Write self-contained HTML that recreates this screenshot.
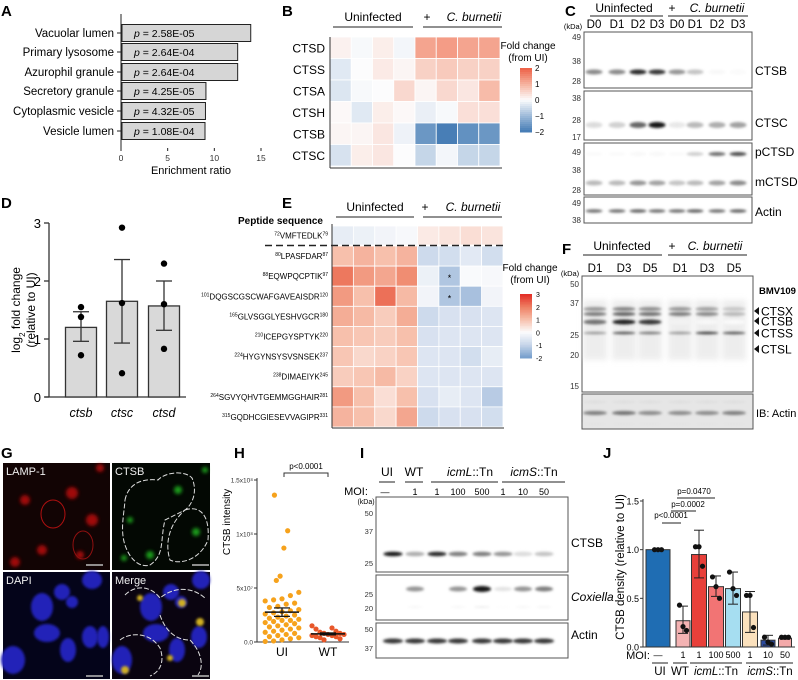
<!DOCTYPE html>
<html><head><meta charset="utf-8"><style>
html,body{margin:0;padding:0;background:#fff;}
svg{display:block;font-family:"Liberation Sans",Arial,sans-serif;}
</style></head><body>
<svg id="fig" width="798" height="680" viewBox="0 0 798 680" xmlns="http://www.w3.org/2000/svg">
<defs>
<filter id="blur1" x="-50%" y="-200%" width="200%" height="500%"><feGaussianBlur stdDeviation="1.4"/></filter>
<filter id="blur2" x="-50%" y="-50%" width="200%" height="200%"><feGaussianBlur stdDeviation="1.8"/></filter>
<filter id="blur3" x="-50%" y="-50%" width="200%" height="200%"><feGaussianBlur stdDeviation="3"/></filter>
</defs>
<g font-weight="bold" font-size="15" fill="#000">
<text x="1" y="16">A</text>
<text x="282" y="16">B</text>
<text x="565" y="16">C</text>
<text x="1" y="208">D</text>
<text x="282" y="208">E</text>
<text x="562" y="254">F</text>
<text x="1" y="458">G</text>
<text x="234" y="458">H</text>
<text x="360" y="458">I</text>
<text x="603" y="458">J</text>
</g>
<g id="pA"></g>
<g id="pB"></g>
<g id="pC"></g>
<g id="pD">
<text transform="translate(20,310) rotate(-90)" font-size="12" text-anchor="middle">log<tspan font-size="8" baseline-shift="sub">2</tspan> fold change</text>
<text transform="translate(35,310) rotate(-90)" font-size="12" text-anchor="middle">(relative to UI)</text>
</g>
<g id="pE"></g>
<g id="pF"></g>
<g id="pG"></g>
<g id="pH"></g>
<g id="pI"></g>
<g id="pJ"></g>
</svg>
<script>
// ---------- DATA ----------
const aCategories = ["Vacuolar lumen","Primary lysosome","Azurophil granule","Secretory granule","Cytoplasmic vesicle","Vesicle lumen"];
const aValues = [13.9, 12.5, 12.5, 9.1, 9.05, 9.0];
const aPvalues = ["2.58E-05","2.64E-04","2.64E-04","4.25E-05","4.32E-05","1.08E-04"];
const aTicks = [0, 5, 10, 15];

const bRows = ["CTSD","CTSS","CTSA","CTSH","CTSB","CTSC"];
const bValues = [
 [0.15,-0.05,0.2,-0.1,1.2,1.3,1.2,1.2],
 [-0.3,0,0.25,0.1,0.6,0.7,0.6,0.6],
 [-0.35,-0.05,0,0.5,0.1,0.5,0.3,0.9],
 [0.05,-0.3,0.2,0.05,-0.2,-0.05,0.4,0.4],
 [0.1,0.1,0.3,-0.15,-1.6,-2.0,-1.7,-1.6],
 [-0.4,0.2,0.3,0,-0.6,-0.1,-0.6,-0.6]];
const bScaleTicks = [2,1,0,-1,-2];

const cLanes = ["D0","D1","D2","D3","D0","D1","D2","D3"];
const cCTSB = [0.5,0.5,0.9,0.85,0.45,0.25,0.03,0.02];
const cCTSC = [0.15,0.2,0.65,1.0,0.1,0.3,0.35,0.4];
const cPCTSD = [0.02,0.02,0.03,0.03,0.02,0.2,0.6,0.75];
const cMCTSD = [0.3,0.3,0.45,0.4,0.25,0.3,0.4,0.5];
const cActin = [0.6,0.6,0.65,0.6,0.6,0.65,0.6,0.65];

const dCategories = ["ctsb","ctsc","ctsd"];
const dMeans = [1.2, 1.65, 1.57];
const dErrLow = [0.96, 0.93, 1.15];
const dErrHigh = [1.47, 2.37, 2.0];
const dPoints = [[1.55,1.38,0.72],[2.92,1.62,0.41],[2.3,1.6,0.83]];
const dTicks = [0,1,2,3];

const ePeptides = [["72","VMFTEDLK","79"],["80","LPASFDAR","87"],["88","EQWPQCPTIK","97"],["101","DQGSCGSCWAFGAVEAISDR","120"],["165","GLVSGGLYESHVGCR","180"],["210","ICEPGYSPTYK","220"],["224","HYGYNSYSVSNSEK","237"],["238","DIMAEIYK","245"],["264","SGVYQHVTGEMMGGHAIR","281"],["315","GQDHCGIESEVVAGIPR","331"]];
const eValues = [
 [-0.4,-0.3,-0.2,-0.1,0.3,0.4,0.5,0.4],
 [1.0,1.2,1.0,1.2,-0.9,-0.8,-0.5,-0.8],
 [2.1,1.6,1.4,1.8,-0.3,-1.3,-0.05,-0.1],
 [1.6,1.0,2.2,1.1,-0.2,-1.3,-1.4,-0.2],
 [1.3,1.1,0.8,1.3,-0.9,-0.7,-0.7,-0.6],
 [1.0,0.9,0.8,1.0,-0.7,-0.6,-0.6,-0.6],
 [0.9,0.6,0.7,0.9,-0.6,-0.6,-0.8,-0.4],
 [0.8,0.9,1.1,0.7,-0.6,-0.6,-0.6,-0.6],
 [1.6,1.0,0.5,1.0,-0.7,-0.4,-0.6,-1.2],
 [1.2,1.0,0.6,1.4,-0.9,-0.7,-0.7,-0.8]];
const eScaleTicks = [3,2,1,0,-1,-2];

const fLanes = ["D1","D3","D5","D1","D3","D5"];
const fCTSX = [0.55,0.65,0.6,0.55,0.5,0.3];
const fCTSB = [0.6,0.95,0.85,0.05,0.03,0.02];
const fCTSS = [0.45,0.75,0.6,0.45,0.85,0.75];
const fActin = [0.55,0.6,0.5,0.5,0.5,0.55];

const hUI = [13.6,10.3,8.7,6.1,5.7,4.6,4.3,4.0,3.9,3.8,3.6,3.5,3.3,3.2,3.0,2.9,2.8,2.7,2.6,2.5,2.4,2.3,2.2,2.1,2.0,2.0,1.9,1.8,1.7,1.6,1.5,1.4,1.3,1.2,1.1,1.0,0.9,0.8,0.7,0.6,0.5,0.4,0.3,0.2,0.1,0.05];
const hWT = [1.5,1.3,1.2,1.0,0.9,0.8,0.8,0.7,0.7,0.6,0.6,0.5,0.5,0.4,0.3,0.2];
const hTickVals = [0, 5, 10, 15];
const hTickLabels = ["0.0","5x10\u2077","1x10\u2078","1.5x10\u2078"];

const iMOI = ["\u2014","1","1","100","500","1","10","50"];
const iCTSB = [1.0,0.35,0.9,0.55,0.55,0.45,0.15,0.25];
const iCoxiella = [0,0.45,0,0.45,1.0,0.12,0.45,0.55];
const iActin = [0.85,0.85,0.85,0.85,0.85,0.85,0.85,0.85];

const jMOI = ["\u2014","1","1","100","500","1","10","50"];
const jMeans = [1.0,0.27,0.95,0.62,0.6,0.36,0.07,0.09];
const jErrLow = [1.0,0.14,0.71,0.52,0.44,0.15,0.02,0.08];
const jErrHigh = [1.0,0.42,1.2,0.73,0.77,0.57,0.12,0.1];
const jPoints = [[1,1,1],[0.43,0.21,0.17],[1.03,1.03,0.83],[0.72,0.62,0.5],[0.77,0.6,0.53],[0.53,0.53,0.2],[0.1,0.05,0.03],[0.1,0.1,0.1]];
const jColors = ["#1f6db3","#f4b3b3","#e8403a","#f27474","#a6def1","#fbe1bd","#2b4a9c","#f3a9a9"];
const jTicks = [0,0.5,1.0,1.5];

// ---------- HELPERS ----------
const NS = "http://www.w3.org/2000/svg";
function mk(tag, attrs, parent){ const e=document.createElementNS(NS,tag); for(const k in attrs) e.setAttribute(k,attrs[k]); parent.appendChild(e); return e; }
function txt(s, attrs, parent){ const e=mk("text",attrs,parent); e.textContent=s; return e; }
function lerp(a,b,t){return Math.round(a+(b-a)*t);}
function mix(c1,c2,t){return "rgb("+lerp(c1[0],c2[0],t)+","+lerp(c1[1],c2[1],t)+","+lerp(c1[2],c2[2],t)+")";}
function ramp(stops,v){
  if(v<=stops[0][0]) return mix(stops[0][1],stops[0][1],0);
  for(let i=1;i<stops.length;i++){ if(v<=stops[i][0]){const t=(v-stops[i-1][0])/(stops[i][0]-stops[i-1][0]); return mix(stops[i-1][1],stops[i][1],t);} }
  const l=stops[stops.length-1][1]; return mix(l,l,0);
}
const bStops=[[-2,[72,126,182]],[-1,[160,188,218]],[0,[252,252,253]],[1,[246,180,160]],[2,[238,100,74]]];
const eStops=[[-2,[120,160,205]],[-1,[200,214,234]],[0,[252,252,253]],[1,[247,192,172]],[2,[238,128,100]],[3,[228,48,40]]];
function band(parent, cx, cy, w, h, inten){
  if(inten<=0.01) return null;
  const g=Math.round(255-inten*235);
  return mk("ellipse",{cx:cx,cy:cy,rx:w/2,ry:h/2,fill:"rgb("+g+","+g+","+g+")",filter:"url(#blur1)"},parent);
}

// ---------- PANEL A ----------
(function(){
 const g=document.getElementById("pA");
 const x0=121, sx=(261-121)/15, rowY=[33,52,72,91,111,131];
 const xs=v=>x0+v*sx;
 mk("line",{x1:x0,y1:14,x2:x0,y2:148,stroke:"#222","stroke-width":1},g);
 aTicks.forEach(t=>{ mk("line",{x1:xs(t),y1:148,x2:xs(t),y2:151,stroke:"#222"},g);
  const l=txt(String(t),{x:xs(t),y:161,"font-size":8.5,"text-anchor":"middle",fill:"#333"},g);
    });
 const xt=txt("Enrichment ratio",{x:191,y:174,"font-size":11,"text-anchor":"middle"},g);
  
 aCategories.forEach((c,i)=>{
  const y=rowY[i];
  mk("line",{x1:x0-4,y1:y,x2:x0,y2:y,stroke:"#222"},g);
  const lab=txt(c,{x:x0-7,y:y+4,"font-size":11.5,"text-anchor":"end"},g);
   
  const r=mk("rect",{x:x0+1,y:y-8.5,width:xs(aValues[i])-x0-1,height:17,fill:"#d6d6d6",stroke:"#222","stroke-width":1},g);
   
  const p=mk("text",{x:x0+13,y:y+4,"font-size":10.5},g);
  const it=mk("tspan",{"font-style":"italic"},p); it.textContent="p";
  const rest=mk("tspan",{},p); rest.textContent=" = "+aPvalues[i];
   
 });
})();

// ---------- PANEL B ----------
(function(){
 const g=document.getElementById("pB");
 const x0=330,y0=37,cw=(500-330)/8,rh=(166-37)/6;
 bValues.forEach((row,r)=>row.forEach((v,c)=>{
  const cell=mk("rect",{x:x0+c*cw,y:y0+r*rh,width:cw,height:rh,fill:ramp(bStops,v),stroke:"#fff","stroke-width":0.8},g);
   
 }));
 bRows.forEach((n,r)=>{ const t=txt(n,{x:325,y:y0+r*rh+rh/2+4.5,"font-size":12,"text-anchor":"end"},g);
    });
 mk("line",{x1:x0,y1:y0,x2:x0,y2:168,stroke:"#333"},g);
 mk("line",{x1:x0,y1:168,x2:502,y2:168,stroke:"#333"},g);
 const h1=txt("Uninfected",{x:373,y:21,"font-size":12,"text-anchor":"middle"},g);
  
 mk("line",{x1:333,y1:27,x2:413,y2:27,stroke:"#222"},g);
 txt("+",{x:427,y:21,"font-size":12,"text-anchor":"middle"},g);
 const h2=txt("C. burnetii",{x:474,y:21,"font-size":12,"font-style":"italic","text-anchor":"middle"},g);
  
 mk("line",{x1:423,y1:27,x2:502,y2:27,stroke:"#222"},g);
 txt("Fold change",{x:528,y:49,"font-size":10,"text-anchor":"middle"},g);
 txt("(from UI)",{x:528,y:61,"font-size":10,"text-anchor":"middle"},g);
 const cy0=68,cy1=132;
 for(let i=0;i<32;i++){ const v=2-4*i/31; mk("rect",{x:520,y:cy0+i*(cy1-cy0)/32,width:12,height:(cy1-cy0)/32+0.5,fill:ramp(bStops,v)},g); }
 bScaleTicks.forEach(t=>{ const y=cy0+(2-t)/4*(cy1-cy0); const l=txt(t<0?"\u2212"+(-t):String(t),{x:535,y:y+3,"font-size":8},g);
    });
})();

// ---------- PANEL C ----------
(function(){
 const g=document.getElementById("pC");
 const lx=[594,617,638,657,677,695,717,738];
 txt("Uninfected",{x:624,y:12,"font-size":12,"text-anchor":"middle"},g);
 mk("line",{x1:590,y1:16,x2:663,y2:16,stroke:"#222"},g);
 txt("+",{x:672,y:12,"font-size":12,"text-anchor":"middle"},g);
 txt("C. burnetii",{x:717,y:12,"font-size":12,"font-style":"italic","text-anchor":"middle"},g);
 mk("line",{x1:668,y1:16,x2:748,y2:16,stroke:"#222"},g);
 cLanes.forEach((d,i)=>{ const t=txt(d,{x:lx[i],y:28,"font-size":11.5,"text-anchor":"middle"},g);
    });
 txt("(kDa)",{x:573,y:29,"font-size":7.5,"text-anchor":"middle"},g);
 const boxes=[[32,88,"CTSB",[["49",37],["38",61],["28",81]],[[cCTSB,72,5]]],
              [91,140,"CTSC",[["38",98],["28",120],["17",137]],[[cCTSC,125,6]]],
              [143,195,"pCTSD",[["49",152],["38",170],["28",190]],[[cPCTSD,154,4],[cMCTSD,183,5]]],
              [197,223,"Actin",[["49",203],["38",220]],[[cActin,211,3.5]]]];
 boxes.forEach(b=>{
  const r=mk("rect",{x:584,y:b[0],width:168,height:b[1]-b[0],fill:"#fff",stroke:"#555","stroke-width":1},g);
   
  b[4].forEach(s=>s[0].forEach((v,i)=>{ const e=band(g,lx[i],s[1],17,s[2],v); if(e){   } }));
  b[3].forEach(k=>txt(k[0],{x:581,y:k[1]+3,"font-size":8,"text-anchor":"end",fill:"#333"},g));
 });
 [["CTSB",75],["CTSC",127],["pCTSD",156],["mCTSD",186],["Actin",216]].forEach(l=>{
  const t=txt(l[0],{x:755,y:l[1],"font-size":12},g);   });
})();

// ---------- PANEL D ----------
(function(){
 const g=document.getElementById("pD");
 const y0=397, sy=(397-223)/3, ys=v=>y0-v*sy, cx=[81,122,164], bw=31;
 mk("line",{x1:49,y1:223,x2:49,y2:y0,stroke:"#333","stroke-width":1.3},g);
 mk("line",{x1:45,y1:y0,x2:186,y2:y0,stroke:"#333","stroke-width":1.3},g);
 dTicks.forEach(t=>{ mk("line",{x1:44,y1:ys(t),x2:49,y2:ys(t),stroke:"#333","stroke-width":1.3},g);
  const l=txt(String(t),{x:41,y:ys(t)+5,"font-size":13,"text-anchor":"end"},g);
    });
 dCategories.forEach((c,i)=>{
  const r=mk("rect",{x:cx[i]-bw/2,y:ys(dMeans[i]),width:bw,height:y0-ys(dMeans[i]),fill:"#d9d9d9",stroke:"#333","stroke-width":1.3},g);
   
  mk("line",{x1:cx[i],y1:ys(dErrLow[i]),x2:cx[i],y2:ys(dErrHigh[i]),stroke:"#333","stroke-width":1.3},g);
  [dErrLow[i],dErrHigh[i]].forEach(v=>mk("line",{x1:cx[i]-8,y1:ys(v),x2:cx[i]+8,y2:ys(v),stroke:"#333","stroke-width":1.3},g));
  dPoints[i].forEach(p=>{ const c2=mk("circle",{cx:cx[i],cy:ys(p),r:3.2,fill:"#000"},g);
     });
  const l=txt(c,{x:cx[i],y:417,"font-size":12.5,"font-style":"italic","text-anchor":"middle"},g);
   
 });
})();

// ---------- PANEL E ----------
(function(){
 const g=document.getElementById("pE");
 const x0=332, cw=(503-332)/8, rowsTop=[226]; const rh=(427-246)/9;
 for(let r=0;r<9;r++) rowsTop.push(246+r*rh);
 eValues.forEach((row,r)=>row.forEach((v,c)=>{
  const h=r===0?19:rh;
  const cell=mk("rect",{x:x0+c*cw,y:rowsTop[r],width:cw,height:h,fill:ramp(eStops,v),stroke:"#fff","stroke-width":0.8},g);
   
 }));
 [[5,2],[5,3]].forEach(s=>txt("*",{x:x0+s[0]*cw+cw/2,y:rowsTop[s[1]]+rh/2+5,"font-size":9,"text-anchor":"middle"},g));
 mk("line",{x1:265,y1:245.5,x2:505,y2:245.5,stroke:"#222","stroke-width":1.5,"stroke-dasharray":"7,4"},g);
 mk("line",{x1:x0,y1:224,x2:x0,y2:428,stroke:"#333"},g);
 mk("line",{x1:x0,y1:428,x2:504,y2:428,stroke:"#333"},g);
 ePeptides.forEach((p,r)=>{
  const h=r===0?19:rh;
  const t=mk("text",{x:328,y:rowsTop[r]+h/2+3,"font-size":8,"text-anchor":"end"},g);
  const s1=mk("tspan",{"font-size":5,dy:-3},t); s1.textContent=p[0];
  const s2=mk("tspan",{dy:3},t); s2.textContent=p[1];
  const s3=mk("tspan",{"font-size":5,dy:-3},t); s3.textContent=p[2];
   
 });
 const ps=txt("Peptide sequence",{x:323,y:224,"font-size":10,"font-weight":"bold","text-anchor":"end"},g);
  
 txt("Uninfected",{x:375,y:211,"font-size":12,"text-anchor":"middle"},g);
 mk("line",{x1:336,y1:217,x2:414,y2:217,stroke:"#222"},g);
 txt("+",{x:425,y:211,"font-size":12,"text-anchor":"middle"},g);
 txt("C. burnetii",{x:473,y:211,"font-size":12,"font-style":"italic","text-anchor":"middle"},g);
 mk("line",{x1:423,y1:217,x2:502,y2:217,stroke:"#222"},g);
 txt("Fold change",{x:530,y:271,"font-size":10,"text-anchor":"middle"},g);
 txt("(from UI)",{x:530,y:283,"font-size":10,"text-anchor":"middle"},g);
 const cy0=294,cy1=358;
 for(let i=0;i<40;i++){ const v=3-5*i/39; mk("rect",{x:520,y:cy0+i*(cy1-cy0)/40,width:12,height:(cy1-cy0)/40+0.5,fill:ramp(eStops,v)},g); }
 eScaleTicks.forEach(t=>{ const y=cy0+(3-t)/5*(cy1-cy0); const l=txt(t<0?"-"+(-t):String(t),{x:536,y:y+3,"font-size":7},g);
    });
})();

// ---------- PANEL F ----------
(function(){
 const g=document.getElementById("pF");
 const lx=[595,624,650,680,707,734];
 txt("Uninfected",{x:622,y:250,"font-size":12,"text-anchor":"middle"},g);
 mk("line",{x1:583,y1:255,x2:662,y2:255,stroke:"#222"},g);
 txt("+",{x:672,y:250,"font-size":12,"text-anchor":"middle"},g);
 txt("C. burnetii",{x:715,y:250,"font-size":12,"font-style":"italic","text-anchor":"middle"},g);
 mk("line",{x1:668,y1:255,x2:747,y2:255,stroke:"#222"},g);
 fLanes.forEach((d,i)=>{ const t=txt(d,{x:lx[i],y:272,"font-size":11.5,"text-anchor":"middle"},g);
    });
 txt("(kDa)",{x:570,y:276,"font-size":7.5,"text-anchor":"middle"},g);
 const r=mk("rect",{x:582,y:276,width:171,height:116,fill:"#fff",stroke:"#555"},g);
  
 lx.forEach(x=>{ mk("rect",{x:x-12,y:300,width:24,height:60,fill:"#ddd",opacity:0.5,filter:"url(#blur3)"},g); });
 fCTSX.forEach((v,i)=>{ band(g,lx[i],309,23,4,v*0.8); const e2=band(g,lx[i],314,23,4,v); if(e2){ } });
 fCTSB.forEach((v,i)=>{ const e=band(g,lx[i],322,23,5,v); if(e){ } });
 fCTSS.forEach((v,i)=>{ const e=band(g,lx[i],333,23,2.6,v); if(e){ } });
 [["50",284],["37",303],["25",335],["20",355],["15",386]].forEach(k=>txt(k[0],{x:579,y:k[1]+3,"font-size":8,"text-anchor":"end",fill:"#333"},g));
 const bm=txt("BMV109",{x:759,y:294,"font-size":9.5,"font-weight":"bold"},g);
  
 [["CTSX",311],["CTSB",321],["CTSS",333],["CTSL",349]].forEach(l=>{
  mk("polygon",{points:"759,"+(l[1]-4)+" 759,"+(l[1]+4)+" 754,"+l[1],fill:"#111"},g);
  const t=txt(l[0],{x:761,y:l[1]+4.5,"font-size":12},g);   });
 const ab=mk("rect",{x:582,y:394,width:171,height:35,fill:"#e6e6e6",stroke:"#555"},g);
  
 fActin.forEach((v,i)=>{ band(g,lx[i],402,24,2,0.15); band(g,lx[i],413,24,4,v); band(g,lx[i],424,24,2,0.12); });
 txt("IB: Actin",{x:756,y:417,"font-size":11},g);
})();

// ---------- PANEL G ----------
(function(){
 const g=document.getElementById("pG");
 const tiles=[[3,463,"LAMP-1","#120404"],[112,463,"CTSB","#030803"],[3,572,"DAPI","#04041a"],[112,572,"Merge","#0a0410"]];
 tiles.forEach(t=>{ const r=mk("rect",{x:t[0],y:t[1],width:t[0]===3?107:98,height:107,fill:t[3]},g);
    });
 // LAMP-1 red puncta
 [[72,493,6],[25,500,5],[92,520,6],[42,550,5],[15,562,5],[100,468,4],[80,555,4]].forEach(b=>mk("circle",{cx:b[0],cy:b[1],r:b[2],fill:"#d01010",opacity:0.75,filter:"url(#blur2)"},g));
 mk("ellipse",{cx:53,cy:514,rx:12,ry:14,fill:"none",stroke:"#b01010","stroke-width":1},g);
 mk("ellipse",{cx:83,cy:545,rx:10,ry:14,fill:"none",stroke:"#901010","stroke-width":1},g);
 // CTSB green puncta
 [[178,490,4],[196,532,4],[150,555,4],[124,558,3],[130,520,3],[205,470,3]].forEach(b=>mk("circle",{cx:b[0],cy:b[1],r:b[2],fill:"#20c020",opacity:0.8,filter:"url(#blur2)"},g));
 const dash={fill:"none",stroke:"#ddd","stroke-width":1,"stroke-dasharray":"5,2"};
 mk("path",Object.assign({d:"M125,500 C128,485 140,478 158,480 C165,472 185,470 192,478 C198,492 192,505 185,510 L165,520 C160,540 165,555 150,565 C140,568 130,560 125,545 C120,530 124,515 125,500 Z"},dash),g);
 mk("path",Object.assign({d:"M185,510 C200,505 210,515 208,540 C200,560 180,565 170,560 C165,545 168,525 185,510 Z"},dash),g);
 // DAPI nuclei
 [[42,607,11,14],[62,592,8,8],[92,580,10,9],[47,633,13,9],[68,650,8,12],[90,637,8,11],[103,637,6,11],[13,660,12,14],[72,602,6,6]].forEach(b=>mk("ellipse",{cx:b[0],cy:b[1],rx:b[2],ry:b[3],fill:"#2424b8",filter:"url(#blur1)"},g));
 // Merge
 [[151,607,11,14],[171,592,8,8],[201,580,9,9],[156,633,13,9],[177,650,8,12],[199,637,8,11],[122,660,10,14],[181,602,6,6]].forEach(b=>mk("ellipse",{cx:b[0],cy:b[1],rx:b[2],ry:b[3],fill:"#2424b8",filter:"url(#blur1)"},g));
 [[182,603,4],[125,670,4],[200,622,4],[140,598,3],[170,658,3]].forEach(b=>mk("circle",{cx:b[0],cy:b[1],r:b[2],fill:"#d0b020",filter:"url(#blur1)"},g));
 mk("path",Object.assign({d:"M125,595 C135,585 150,585 160,598 C172,588 190,585 205,598 M160,615 C165,630 175,640 190,640 C200,650 205,665 198,675 M120,640 C130,632 150,632 160,648 C165,662 160,672 150,676"},dash),g);
 tiles.forEach(t=>{ const l=txt(t[2],{x:t[0]+3,y:t[1]+12,"font-size":11,fill:"#eee"},g);   });
 [[95,565],[201,565],[95,676],[201,676]].forEach(s=>mk("line",{x1:s[0]-9,y1:s[1],x2:s[0]+8,y2:s[1],stroke:"#bbb","stroke-width":1.5},g));
})();

// ---------- PANEL H ----------
(function(){
 const g=document.getElementById("pH");
 const y0=642, sy=(642-480)/15, ys=v=>y0-v*sy, ax=257, cxUI=282, cxWT=328;
 mk("line",{x1:ax,y1:478,x2:ax,y2:y0,stroke:"#333"},g);
 mk("line",{x1:ax,y1:y0,x2:349,y2:y0,stroke:"#333"},g);
 hTickVals.forEach((t,i)=>{ mk("line",{x1:ax-3,y1:ys(t),x2:ax,y2:ys(t),stroke:"#333"},g);
  const l=txt(hTickLabels[i],{x:ax-4,y:ys(t)+2.5,"font-size":6.5,"text-anchor":"end",fill:"#333"},g);
    });
 const yt=txt("CTSB intensity",{transform:"translate(230,522) rotate(-90)","font-size":10,"text-anchor":"middle"},g);
  
 hUI.forEach((v,i)=>{ const off=(((i*7)%9)-4)*4.2*(v<5?1:0.45);
  const c=mk("circle",{cx:cxUI+off,cy:ys(v),r:2.6,fill:"#f6a21c"},g);
    });
 hWT.forEach((v,i)=>{ const off=(((i*5)%9)-4)*4;
  const c=mk("circle",{cx:cxWT+off,cy:ys(v),r:2.6,fill:"#e8572a"},g);
    });
 const mean=a=>a.reduce((x,y)=>x+y,0)/a.length;
 const sem=a=>{const m=mean(a);return Math.sqrt(a.reduce((s,x)=>s+(x-m)*(x-m),0)/(a.length-1))/Math.sqrt(a.length);};
 [[cxUI,mean(hUI),sem(hUI)],[cxWT,mean(hWT),sem(hWT)]].forEach(m=>{
  mk("line",{x1:m[0]-17,y1:ys(m[1]),x2:m[0]+17,y2:ys(m[1]),stroke:"#111","stroke-width":1.5},g);
  mk("line",{x1:m[0],y1:ys(m[1]-m[2]),x2:m[0],y2:ys(m[1]+m[2]),stroke:"#111","stroke-width":1.2},g);
  [m[1]-m[2],m[1]+m[2]].forEach(v=>mk("line",{x1:m[0]-8,y1:ys(v),x2:m[0]+8,y2:ys(v),stroke:"#111","stroke-width":1.2},g));
 });
 mk("polyline",{points:"284,477 284,473 328,473 328,477",fill:"none",stroke:"#333"},g);
 txt("p<0.0001",{x:306,y:469,"font-size":8,"text-anchor":"middle"},g);
 txt("UI",{x:cxUI,y:656,"font-size":12,"text-anchor":"middle"},g);
 txt("WT",{x:cxWT,y:656,"font-size":12,"text-anchor":"middle"},g);
})();

// ---------- PANEL I ----------
(function(){
 const g=document.getElementById("pI");
 const lx=[393,415,437,458,482,503,523,544];
 [["UI",387,379,395],["WT",414,405,423]].forEach(h=>{ txt(h[0],{x:h[1],y:476,"font-size":12,"text-anchor":"middle"},g); mk("line",{x1:h[2],y1:482,x2:h[3],y2:482,stroke:"#222"},g); });
 const l1=mk("text",{x:470,y:476,"font-size":12,"text-anchor":"middle"},g);
 const l1a=mk("tspan",{"font-style":"italic"},l1); l1a.textContent="icmL"; const l1b=mk("tspan",{},l1); l1b.textContent="::Tn";
 mk("line",{x1:431,y1:482,x2:498,y2:482,stroke:"#222"},g);
 const l2=mk("text",{x:534,y:476,"font-size":12,"text-anchor":"middle"},g);
 const l2a=mk("tspan",{"font-style":"italic"},l2); l2a.textContent="icmS"; const l2b=mk("tspan",{},l2); l2b.textContent="::Tn";
 mk("line",{x1:502,y1:482,x2:565,y2:482,stroke:"#222"},g);
 txt("MOI:",{x:356,y:495,"font-size":11,"text-anchor":"middle"},g);
 iMOI.forEach((m,i)=>{ const t=txt(m,{x:lx[i]+(i===0?-8:0),y:495,"font-size":9,"text-anchor":"middle"},g);
    });
 txt("(kDa)",{x:366,y:504,"font-size":7,"text-anchor":"middle"},g);
 [[497,572,"ctsb"],[575,620,"coxiella"],[623,658,"actin"]].forEach(b=>{ const r=mk("rect",{x:376,y:b[0],width:192,height:b[1]-b[0],fill:"#fff",stroke:"#555"},g);
    });
 iCTSB.forEach((v,i)=>{ const e=band(g,lx[i],554,19,4.5,v); if(e){ } });
 iCoxiella.forEach((v,i)=>{ const e=band(g,lx[i],589,18,4+v*2,v); if(e){ } band(g,lx[i],607,16,1.5,v*0.1); });
 iActin.forEach((v,i)=>{ const e=band(g,lx[i],641,20,5,v); if(e){ } });
 [["50",513],["37",531],["25",563],["25",594],["20",608],["50",629],["37",648]].forEach(k=>txt(k[0],{x:373,y:k[1]+3,"font-size":7.5,"text-anchor":"end",fill:"#333"},g));
 txt("CTSB",{x:571,y:547,"font-size":12},g);
 txt("Coxiella",{x:571,y:601,"font-size":12,"font-style":"italic"},g);
 txt("Actin",{x:571,y:639,"font-size":12},g);
})();

// ---------- PANEL J ----------
(function(){
 const g=document.getElementById("pJ");
 const y0=647, sy=(647-501)/1.5, ys=v=>y0-v*sy, ax=643;
 const cx=[658,683,699,716,733,750,768,785], bw=[24,14,15,15,15,15,14,13];
 mk("line",{x1:ax,y1:499,x2:ax,y2:y0,stroke:"#333"},g);
 mk("line",{x1:ax,y1:y0,x2:795,y2:y0,stroke:"#333"},g);
 jTicks.forEach(t=>{ mk("line",{x1:ax-3,y1:ys(t),x2:ax,y2:ys(t),stroke:"#333"},g);
  const l=txt(t.toFixed(1),{x:ax-4,y:ys(t)+3.5,"font-size":9,"text-anchor":"end"},g);
    });
 const yt=txt("CTSB density (relative to UI)",{transform:"translate(624,567) rotate(-90)","font-size":11.5,"text-anchor":"middle"},g);
  
 jMeans.forEach((m,i)=>{
  const r=mk("rect",{x:cx[i]-bw[i]/2,y:ys(m),width:bw[i],height:y0-ys(m),fill:jColors[i],stroke:"#333","stroke-width":1},g);
   
  mk("line",{x1:cx[i],y1:ys(jErrLow[i]),x2:cx[i],y2:ys(jErrHigh[i]),stroke:"#222","stroke-width":1},g);
  [jErrLow[i],jErrHigh[i]].forEach(v=>mk("line",{x1:cx[i]-5,y1:ys(v),x2:cx[i]+5,y2:ys(v),stroke:"#222"},g));
  jPoints[i].forEach((p,k)=>{ const c=mk("circle",{cx:cx[i]+(k-1)*3.5,cy:ys(p),r:2.6,fill:"#111"},g);
     });
  const t=txt(jMOI[i],{x:cx[i],y:658,"font-size":9,"text-anchor":"middle"},g);
   
 });
 txt("MOI:",{x:638,y:659,"font-size":11,"text-anchor":"middle"},g);
 [["p<0.0001",671,518,662,681,523],["p=0.0002",688,507,671,696,511],["p=0.0470",694,494,677,715,498]].forEach(p=>{
  const t=txt(p[0],{x:p[1],y:p[2],"font-size":8,"text-anchor":"middle"},g);
   
  mk("line",{x1:p[3],y1:p[5],x2:p[4],y2:p[5],stroke:"#222"},g); });
 [[652,668],[673,687],[690,742],[746,793]].forEach(u=>mk("line",{x1:u[0],y1:663,x2:u[1],y2:663,stroke:"#222"},g));
 txt("UI",{x:660,y:675,"font-size":11.5,"text-anchor":"middle"},g);
 txt("WT",{x:680,y:675,"font-size":11.5,"text-anchor":"middle"},g);
 const a=mk("text",{x:716,y:675,"font-size":11.5,"text-anchor":"middle"},g);
 const a1=mk("tspan",{"font-style":"italic"},a); a1.textContent="icmL"; const a2=mk("tspan",{},a); a2.textContent="::Tn";
 const b=mk("text",{x:770,y:675,"font-size":11.5,"text-anchor":"middle"},g);
 const b1=mk("tspan",{"font-style":"italic"},b); b1.textContent="icmS"; const b2=mk("tspan",{},b); b2.textContent="::Tn";
})();
</script>
</body></html>
